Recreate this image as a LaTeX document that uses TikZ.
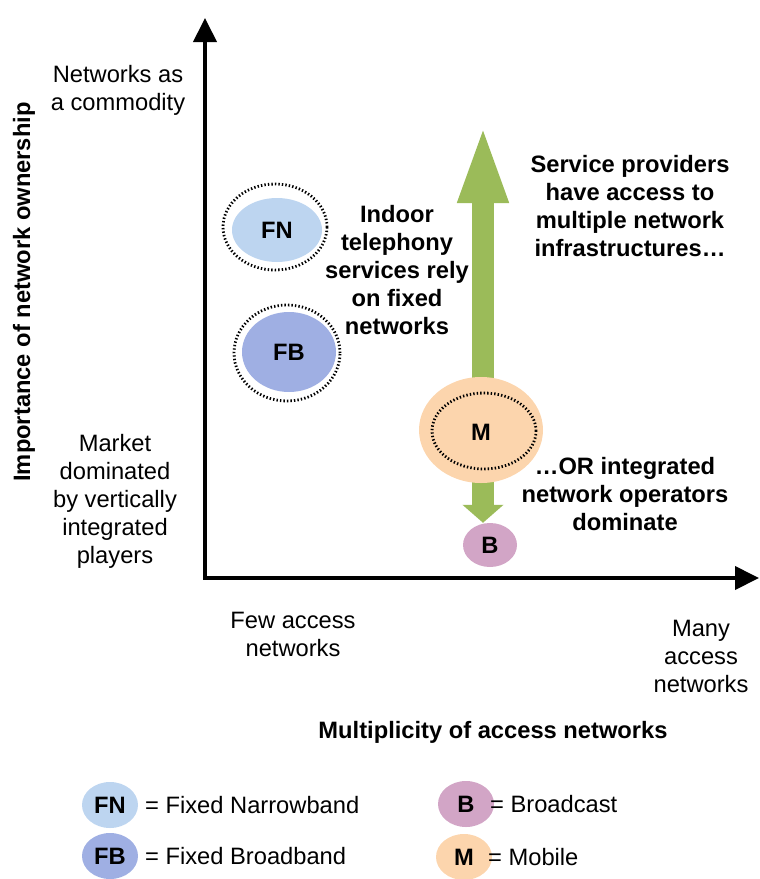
\documentclass[tikz,border=0pt]{standalone}
\usepackage{fontspec}
\setmainfont{Liberation Sans}
\usetikzlibrary{arrows.meta,shapes.geometric}

\definecolor{fnblue}{HTML}{BDD5F0}
\definecolor{fbblue}{HTML}{9FAFE3}
\definecolor{mpeach}{HTML}{FCD5AD}
\definecolor{bmauve}{HTML}{D2A5C6}
\definecolor{arrowgreen}{HTML}{9BBB59}

\tikzset{
  txt/.style={font=\fontsize{23.7}{28}\selectfont, align=center, inner sep=0pt},
  btxt/.style={txt, font=\fontsize{23.7}{28}\selectfont\bfseries},
  blob/.style={ellipse, inner sep=0pt, draw=none, font=\fontsize{23.7}{28}\selectfont\bfseries},
  ring/.style={ellipse, inner sep=0pt, draw=black, line width=2.8pt, dash pattern=on 1.4pt off 2.1pt},
  axis/.style={line width=4pt, -{Triangle[width=23pt,length=24pt]}},
  bigarrow/.style={draw=arrowgreen, line width=22pt},
}

\begin{document}
\begin{tikzpicture}[x=1pt,y=-1pt]
\useasboundingbox (0,0) rectangle (760,879);

% axes
\coordinate (origin) at (205,578);
\coordinate (ytip) at (205,18);
\coordinate (xtip) at (759,578);
\draw[axis] (origin) -- (ytip);
\draw[axis] ([xshift=-2pt]origin) -- (xtip);

% arrow targets and blobs
\node[blob, fill=bmauve, minimum width=54pt, minimum height=44pt] (B) at (490,545) {B};
\coordinate (uptip) at (483,123);
\node[blob, minimum width=124pt, minimum height=106pt] (Mpos) at (483,430) {};
\draw[bigarrow, -{Triangle[width=45pt,length=80pt]}] (Mpos.center) -- (uptip);
\draw[bigarrow, -{Triangle[width=40pt,length=18pt]}] (Mpos.center) -- (Mpos.center |- B.north);
\node[blob, fill=mpeach, minimum width=124pt, minimum height=106pt] (M) at (481,430) {};
\node[ring, minimum width=104pt, minimum height=76pt] (Mring) at (484,431) {};
\node[blob] (Mlabel) at (481,432) {M};

\node[blob, fill=fnblue, minimum width=90pt, minimum height=64pt] (FN) at (277,230) {FN};
\node[ring, minimum width=104pt, minimum height=86pt] (FNring) at (275,227) {};
\node[blob, fill=fbblue, minimum width=94pt, minimum height=80pt] (FB) at (289,352) {FB};
\node[ring, minimum width=106pt, minimum height=96pt] (FBring) at (287,353) {};

% axis texts
\node[txt] (top) at (118,90) {Networks as\\a commodity};
\node[txt] (bottom) at (115,501) {Market\\dominated\\by vertically\\integrated\\players};
\node[txt] (few) at (293,634) {Few access\\networks};
\node[txt] (many) at (701,656) {Many\\access\\networks};
\node[btxt] (xlabel) at (493,732) {Multiplicity of access networks};
\node[btxt, rotate=90] (ylabel) at (24,292) {Importance of network ownership};

% annotations
\node[btxt] (indoor) at (397,270) {Indoor\\telephony\\services rely\\on fixed\\networks};
\node[btxt] (service) at (630,206) {Service providers\\have access to\\multiple network\\infrastructures\ldots};
\node[btxt] (orint) at (625,494) {\ldots OR integrated\\network operators\\dominate};

% legend
\node[blob, fill=fnblue, minimum width=56pt, minimum height=46pt] (lFN) at (110,805) {FN};
\node[txt, anchor=west] (lFNt) at (145,805) {= Fixed Narrowband};
\node[blob, fill=fbblue, minimum width=56pt, minimum height=46pt] (lFB) at (110,856) {FB};
\node[txt, anchor=west] (lFBt) at (145,856) {= Fixed Broadband};
\node[blob, fill=bmauve, minimum width=56pt, minimum height=46pt] (lB) at (466,804) {B};
\node[txt, anchor=west] (lBt) at (490,804) {= Broadcast};
\node[blob, fill=mpeach, minimum width=56pt, minimum height=46pt] (lM) at (464,857) {M};
\node[txt, anchor=west] (lMt) at (488,857) {= Mobile};
\end{tikzpicture}
\end{document}
